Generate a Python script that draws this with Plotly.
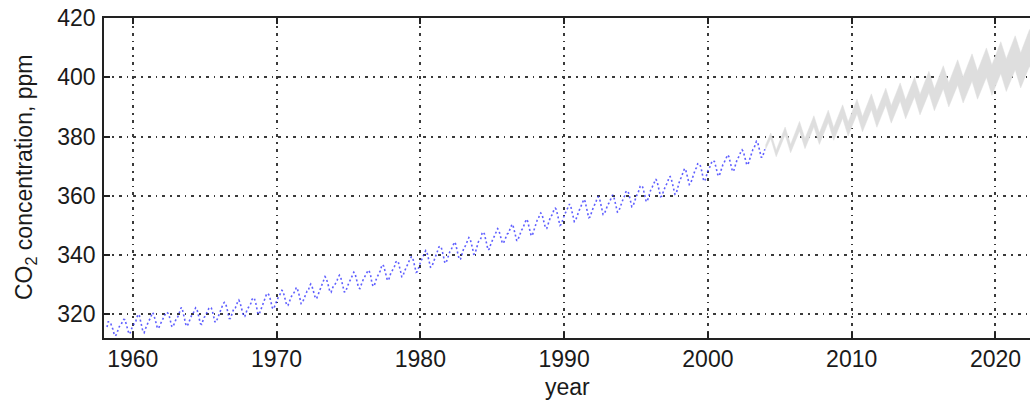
import plotly.graph_objects as go

# ---------------- data ----------------
# Monthly Mauna Loa CO2 observations (ppm), March 1958 - December 2003
obs_start_year = 1958
obs_start_month = 3
co2_monthly = [
    [315.7, 317.5, 317.5, 317.1, 315.9, 314.9, 313.2, 312.7, 313.3, 314.7],  # 1958 (Mar-Dec)
    [315.6, 316.4, 316.7, 317.7, 318.3, 318.2, 316.5, 314.8, 313.8, 313.3, 314.8, 315.6],  # 1959
    [316.4, 317.0, 317.6, 319.0, 320.0, 319.6, 318.2, 315.9, 314.2, 313.8, 315.0, 316.2],  # 1960
    [316.9, 317.9, 318.5, 319.5, 320.6, 319.9, 318.7, 317.0, 315.4, 315.2, 316.2, 317.1],  # 1961
    [317.9, 318.5, 319.4, 320.4, 320.7, 320.3, 319.3, 317.6, 316.0, 315.7, 316.8, 317.7],  # 1962
    [318.7, 319.1, 319.9, 321.4, 322.3, 321.5, 319.7, 317.8, 316.2, 316.0, 317.1, 318.3],  # 1963
    [319.6, 320.0, 320.4, 321.6, 322.2, 321.9, 320.5, 318.6, 316.8, 316.6, 317.8, 318.9],  # 1964
    [319.4, 320.4, 320.9, 322.0, 322.4, 322.2, 321.0, 319.2, 317.5, 317.3, 318.4, 319.5],  # 1965
    [320.6, 321.4, 322.3, 323.6, 324.0, 323.6, 322.2, 320.2, 318.6, 318.6, 319.7, 320.7],  # 1966
    [322.1, 322.2, 322.8, 324.3, 324.8, 324.0, 322.7, 320.8, 319.3, 319.3, 320.6, 321.6],  # 1967
    [322.3, 322.9, 323.6, 325.0, 325.6, 325.3, 324.1, 322.1, 320.1, 320.0, 321.1, 322.4],  # 1968
    [323.7, 324.4, 325.3, 326.6, 327.1, 326.6, 325.5, 323.7, 322.2, 321.8, 322.9, 324.1],  # 1969
    [324.9, 325.8, 326.4, 327.5, 328.1, 327.7, 326.4, 324.6, 323.0, 323.0, 324.1, 325.1],  # 1970
    [326.1, 326.6, 327.2, 327.9, 329.1, 328.4, 327.1, 325.2, 323.6, 323.8, 325.0, 326.0],  # 1971
    [326.9, 327.8, 327.9, 329.5, 330.2, 329.6, 328.3, 326.5, 325.3, 325.4, 326.5, 327.8],  # 1972
    [328.7, 329.7, 330.5, 331.7, 332.7, 332.2, 331.0, 329.3, 327.6, 327.4, 328.6, 329.6],  # 1973
    [329.9, 330.6, 331.4, 332.6, 333.2, 332.6, 331.1, 329.2, 327.6, 327.5, 328.7, 329.9],  # 1974
    [330.8, 331.5, 332.4, 333.3, 334.2, 333.8, 332.2, 330.2, 328.9, 328.7, 330.0, 331.1],  # 1975
    [331.9, 332.6, 333.4, 334.6, 334.9, 334.4, 333.1, 330.8, 329.5, 329.6, 331.1, 332.2],  # 1976
    [333.0, 333.8, 334.6, 336.0, 336.8, 336.2, 334.7, 332.6, 331.5, 331.5, 332.9, 334.1],  # 1977
    [334.7, 335.4, 336.2, 337.6, 338.0, 337.8, 336.4, 334.5, 332.7, 332.8, 334.3, 335.4],  # 1978
    [336.2, 336.9, 337.9, 338.9, 339.4, 339.3, 337.9, 335.8, 334.2, 334.4, 335.9, 337.1],  # 1979
    [338.0, 338.8, 339.7, 340.9, 341.5, 341.0, 339.6, 337.6, 335.9, 336.0, 337.3, 338.5],  # 1980
    [339.6, 340.4, 341.5, 342.7, 343.0, 342.5, 341.0, 339.0, 337.3, 337.4, 338.9, 340.0],  # 1981
    [341.0, 341.6, 342.7, 343.8, 344.4, 343.7, 342.3, 340.1, 338.5, 338.6, 339.9, 341.2],  # 1982
    [342.6, 343.0, 343.8, 345.0, 345.9, 345.5, 344.3, 342.4, 340.3, 340.4, 341.7, 343.1],  # 1983
    [344.5, 344.8, 345.6, 347.3, 347.8, 347.1, 345.7, 343.5, 341.7, 342.0, 343.3, 344.7],  # 1984
    [345.3, 346.1, 347.1, 348.2, 348.9, 348.4, 346.7, 345.2, 343.9, 344.1, 345.3, 346.5],  # 1985
    [347.1, 347.4, 348.3, 349.8, 350.4, 349.7, 348.1, 346.1, 344.8, 345.2, 346.5, 347.7],  # 1986
    [348.4, 349.0, 349.9, 351.4, 352.1, 351.5, 350.1, 348.2, 346.5, 346.7, 348.2, 349.6],  # 1987
    [350.5, 351.7, 352.2, 353.6, 354.2, 353.8, 352.4, 350.5, 349.0, 349.0, 350.3, 351.7],  # 1988
    [352.7, 353.3, 353.9, 355.4, 355.8, 355.4, 353.8, 351.8, 350.0, 350.3, 351.7, 353.1],  # 1989
    [353.8, 354.6, 355.4, 356.4, 357.2, 356.5, 354.9, 352.9, 351.3, 351.6, 352.9, 354.2],  # 1990
    [355.0, 355.9, 356.7, 358.0, 358.8, 358.1, 356.5, 354.2, 352.6, 352.8, 354.2, 355.4],  # 1991
    [356.2, 357.0, 357.8, 359.2, 359.7, 359.2, 357.6, 355.4, 353.7, 353.8, 355.0, 356.3],  # 1992
    [357.0, 357.6, 358.4, 359.5, 360.3, 359.6, 357.8, 355.8, 354.5, 354.7, 356.0, 357.4],  # 1993
    [358.4, 359.2, 360.0, 361.3, 361.7, 361.3, 359.8, 357.8, 356.3, 356.5, 357.9, 359.2],  # 1994
    [360.1, 360.7, 361.7, 363.2, 363.5, 363.0, 361.5, 359.5, 358.0, 358.3, 359.7, 361.1],  # 1995
    [362.3, 362.9, 363.8, 364.9, 365.6, 365.0, 363.5, 361.3, 359.7, 359.9, 361.2, 362.7],  # 1996
    [363.2, 363.9, 364.7, 366.3, 366.5, 365.6, 364.0, 362.0, 360.5, 360.7, 362.3, 364.0],  # 1997
    [365.2, 366.0, 367.2, 368.7, 369.2, 368.7, 367.3, 365.3, 363.8, 364.1, 365.3, 366.7],  # 1998
    [368.0, 368.9, 369.5, 370.8, 370.9, 370.4, 369.0, 366.7, 365.0, 365.0, 366.6, 368.0],  # 1999
    [369.1, 369.6, 370.5, 371.7, 371.9, 371.5, 370.0, 368.0, 366.7, 366.8, 368.3, 369.6],  # 2000
    [370.5, 371.2, 372.1, 373.3, 373.8, 373.2, 371.6, 369.6, 368.2, 368.4, 369.8, 371.1],  # 2001
    [372.4, 373.0, 373.7, 375.0, 375.5, 375.0, 373.4, 371.5, 370.4, 370.6, 372.0, 373.5],  # 2002
    [374.7, 375.6, 376.1, 377.6, 378.4, 378.1, 376.6, 374.5, 373.0, 373.0, 374.4, 375.7],  # 2003
]

# Predictive band (mean +/- 2 sd) 2004-2022, at seasonal peaks and troughs
band_years = [2004.0,
              2004.37, 2004.75, 2005.37, 2005.75, 2006.37, 2006.75, 2007.37, 2007.75,
              2008.37, 2008.75, 2009.37, 2009.75, 2010.37, 2010.75, 2011.37, 2011.75,
              2012.37, 2012.75, 2013.37, 2013.75, 2014.37, 2014.75, 2015.37, 2015.75,
              2016.37, 2016.75, 2017.37, 2017.75, 2018.37, 2018.75, 2019.37, 2019.75,
              2020.37, 2020.75, 2021.37, 2021.75, 2022.37, 2022.75]
band_upper = [377.0,
              381.2, 375.4, 383.2, 377.3, 385.1, 379.3, 387.0, 381.2,
              388.9, 383.0, 390.7, 384.9, 392.6, 386.7, 394.4, 388.6,
              396.3, 390.4, 398.1, 392.3, 400.0, 394.2, 402.0, 396.1,
              403.9, 398.1, 405.9, 400.1, 407.9, 402.1, 409.9, 404.1,
              412.0, 406.2, 414.0, 408.2, 416.1, 410.3]
band_lower = [375.6,
              379.3, 373.2, 380.6, 374.5, 381.9, 375.9, 383.3, 377.3,
              384.8, 378.7, 386.2, 380.2, 387.7, 381.6, 389.1, 383.1,
              390.6, 384.5, 392.0, 386.0, 393.4, 387.3, 394.8, 388.7,
              396.1, 390.0, 397.4, 391.3, 398.7, 392.6, 400.0, 393.9,
              401.3, 395.2, 402.5, 396.4, 403.8, 397.7]

x_ticks = [1960, 1970, 1980, 1990, 2000, 2010, 2020]
y_ticks = [320, 340, 360, 380, 400, 420]

# ---------------- build observation series ----------------
obs_t, obs_v = [], []
for i, row in enumerate(co2_monthly):
    yr = obs_start_year + i
    m0 = obs_start_month if i == 0 else 1
    for j, v in enumerate(row):
        obs_t.append(yr + (m0 + j - 0.5) / 12.0)
        obs_v.append(v)

fig = go.Figure()

fig.add_trace(go.Scatter(
    x=band_years + band_years[::-1],
    y=band_upper + band_lower[::-1],
    fill="toself", fillcolor="#dedede",
    line=dict(width=0.5, color="#dedede"),
    mode="lines", hoverinfo="skip", showlegend=False,
))

fig.add_trace(go.Scatter(
    x=obs_t, y=obs_v, mode="lines",
    line=dict(color="rgba(55,55,255,0.8)", width=1.6, dash="2px,2.5px"),
    showlegend=False,
))

font_main = dict(family="Liberation Sans, Arial, sans-serif", size=23, color="#1a1a1a")
grid_dash = "3px,5px,1.5px,5px"

fig.update_xaxes(
    range=[1958.0, 2022.4],
    tickmode="array", tickvals=x_ticks, ticktext=[str(v) for v in x_ticks],
    ticks="inside", ticklen=6, tickwidth=1.5, tickcolor="#222",
    showline=True, linewidth=1.5, linecolor="#222", mirror="ticks",
    showgrid=True, gridcolor="#3a3a3a", gridwidth=1.6, griddash=grid_dash,
    zeroline=False, tickfont=font_main,
)
fig.update_yaxes(
    range=[312, 420],
    tickmode="array", tickvals=y_ticks, ticktext=[str(v) for v in y_ticks],
    ticks="inside", ticklen=6, tickwidth=1.5, tickcolor="#222",
    showline=True, linewidth=1.5, linecolor="#222", mirror=False,
    showgrid=True, gridcolor="#3a3a3a", gridwidth=1.6, griddash=grid_dash,
    zeroline=False, tickfont=font_main, ticklabelstandoff=2,
)

fig.update_layout(
    width=1030, height=402,
    margin=dict(l=104, r=0, t=18, b=64),
    paper_bgcolor="white", plot_bgcolor="white",
    showlegend=False,
    annotations=[
        dict(text="year", xref="paper", yref="paper", x=0.5, y=-(387 - 338.3) / 320,
             xanchor="center", yanchor="middle", showarrow=False, font=font_main),
        dict(text="CO<sub>2</sub> concentration, ppm", xref="paper", yref="paper",
             x=(25 - 104) / 926, y=0.5, xanchor="center", yanchor="middle",
             textangle=-90, showarrow=False, font=font_main),
    ],
)

fig.write_html("out.html")
